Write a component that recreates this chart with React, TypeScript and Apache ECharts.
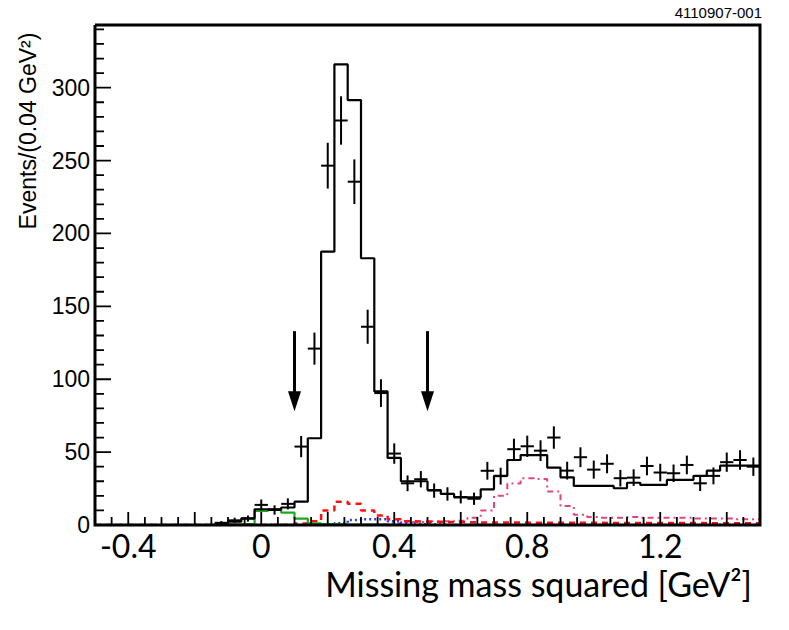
import React, { useEffect, useRef } from "react";
import * as echarts from "echarts";

// Histogram layout (GeV^2)
const X_MIN = -0.5;
const X_MAX = 1.5;
const BIN = 0.04;
const Y_MAX = 343;

// Bin centres, 50 bins of 0.04 GeV^2
const binCenters = [
  -0.48, -0.44, -0.4, -0.36, -0.32, -0.28, -0.24, -0.2, -0.16, -0.12,
  -0.08, -0.04, 0.0, 0.04, 0.08, 0.12, 0.16, 0.2, 0.24, 0.28,
  0.32, 0.36, 0.4, 0.44, 0.48, 0.52, 0.56, 0.6, 0.64, 0.68,
  0.72, 0.76, 0.8, 0.84, 0.88, 0.92, 0.96, 1.0, 1.04, 1.08,
  1.12, 1.16, 1.2, 1.24, 1.28, 1.32, 1.36, 1.4, 1.44, 1.48,
];

// Total fit (black histogram)
const fitValues = [
  0, 0, 0, 0, 0, 0, 0, 0, 0, 0.7,
  2.3, 4.6, 10.8, 10.8, 12, 16, 59.5, 187.5, 316, 291.5,
  183, 91.6, 46, 30, 30, 24, 21.3, 19, 19, 24.5,
  33.7, 44.6, 48, 48, 39.4, 32.7, 26.8, 26.8, 26.8, 25.2,
  29, 27.5, 27.5, 30.9, 30.9, 33.7, 37.3, 40.7, 40.7, 40.7,
];

// Component histograms
const greenValues = [
  0, 0, 0, 0, 0, 0, 0, 0, 0, 0.5,
  0.5, 0.8, 9.6, 10.8, 8.5, 4.4, 1.2, 0.6, 0.4, 0.3,
  0.2, 0.1, 0, 0, 0, 0, 0, 0, 0, 0,
  0, 0, 0, 0, 0, 0, 0, 0, 0, 0,
  0, 0, 0, 0, 0, 0, 0, 0, 0, 0,
];
const blueValues = [
  0, 0, 0, 0, 0, 0, 0, 0, 0, 0,
  0, 0, 0, 0, 0, 0, 0, 0.5, 1.2, 3.5,
  4, 4, 2.5, 1.2, 0.5, 0.3, 0, 0, 0, 0,
  0, 0, 0, 0, 0, 0, 0, 0, 0, 0,
  0, 0, 0, 0, 0, 0, 0, 0, 0, 0,
];
const redValues = [
  0, 0, 0, 0, 0, 0, 0, 0, 0, 0,
  0, 0, 0, 0, 0, 1, 2.5, 10, 16, 14.5,
  10, 6.5, 4, 2.5, 2.3, 2.2, 2, 2, 1.8, 1.8,
  1.7, 1.7, 1.6, 1.6, 1.5, 1.5, 1.5, 1.5, 1.4, 1.4,
  1.4, 1.4, 1.3, 1.3, 1.3, 1.3, 1.2, 1.2, 1.2, 1.2,
];
const pinkValues = [
  0, 0, 0, 0, 0, 0, 0, 0, 0, 0,
  0, 0, 0, 0, 0, 0, 0, 0, 0, 0,
  0, 0.5, 1, 2, 2, 2.5, 2.5, 3, 5, 10,
  20, 28.5, 32, 31.5, 23, 13, 7, 5.5, 5, 5,
  5.5, 5, 5, 5, 5, 4.5, 4.5, 4.5, 4, 4,
];

// Data points (null = no entry) and their errors
const dataValues = [
  null, null, null, null, null, null, null, null, null, 1.5,
  3.2, 4.4, 13.8, 10.3, 14.5, 53.8, 121, 246.5, 277.5, 235.5,
  136, 90.5, 49, 28.6, 31.4, 23.6, 21.3, 19.2, 18, 37.2,
  33.5, 52, 54, 51, 60, 37.3, 46.5, 38, 42, 32.1,
  32.5, 40.5, 36, 35.5, 41.2, 28.6, 33.7, 43.1, 44.6, 40,
];
const dataErrors = [
  null, null, null, null, null, null, null, null, null, 1.2,
  1.8, 2.1, 3.7, 3.2, 3.8, 7.3, 11, 15.7, 16.6, 15.3,
  11.7, 9.5, 7, 5.4, 5.6, 4.9, 4.6, 4.4, 4.2, 6.1,
  5.8, 7.2, 7.3, 7.1, 7.7, 6.1, 6.8, 6.2, 6.5, 5.7,
  5.7, 6.4, 6, 6, 6.4, 5.3, 5.8, 6.6, 6.7, 6.3,
];

// Selection arrows
const arrowX = [0.1, 0.5];
const arrowTop = 133;
const arrowTip = 78;

// Axis ticks and labels
const xLabelValues = [-0.4, 0, 0.4, 0.8, 1.2];
const X_MINOR_STEP = 0.05;
const X_MID_STEP = 0.2;
const Y_MAJOR_STEP = 50;
const Y_MINOR_STEP = 10;

const stepData = (vals: number[]) => {
  const pts: number[][] = vals.map((v, i) => [X_MIN + i * BIN, v]);
  pts.push([X_MAX, vals[vals.length - 1]]);
  return pts;
};

const near = (a: number, step: number) => Math.abs(a / step - Math.round(a / step)) < 1e-6;

// tick positions in data units: [value, pixel length]
const xTicks: number[][] = [];
for (let k = 1; k < Math.round((X_MAX - X_MIN) / X_MINOR_STEP); k++) {
  const v = X_MIN + k * X_MINOR_STEP;
  xTicks.push([v, near(v, X_MID_STEP) ? 13 : 8]);
}
const yTicks: number[][] = [];
for (let v = Y_MINOR_STEP; v < Y_MAX; v += Y_MINOR_STEP) {
  yTicks.push([v, v % Y_MAJOR_STEP === 0 ? 16 : 9]);
}

export default function App() {
  const ref = useRef<HTMLDivElement>(null);
  useEffect(() => {
    if (!ref.current) return;
    const chart = echarts.init(ref.current, undefined, { renderer: "svg" });

    const points = binCenters
      .map((c, i) => [c, dataValues[i], dataErrors[i]])
      .filter((p) => p[1] !== null);

    const option: any = {
      animation: false,
      grid: { left: 95, right: 29, top: 25, bottom: 105, containLabel: false },
      xAxis: [
        {
          type: "value",
          position: "bottom",
          min: X_MIN,
          max: X_MAX,
          axisLine: { show: false, onZero: false },
          axisTick: { show: false },
          axisLabel: {
            show: true,
            customValues: xLabelValues,
            formatter: (v: number) => (Math.abs(v) < 1e-9 ? "0" : v.toFixed(1)),
            fontFamily: "Lato",
            fontSize: 32,
            color: "#000",
            margin: 4,
          },
          splitLine: { show: false },
        },
      ],
      yAxis: [
        {
          type: "value",
          position: "left",
          min: 0,
          max: Y_MAX,
          interval: 50,
          axisLine: { show: false, onZero: false },
          axisTick: { show: false },
          axisLabel: {
            formatter: (v: number) => (v % 50 === 0 && v <= 300 ? String(v) : ""),
            fontFamily: "Liberation Sans",
            fontSize: 23,
            color: "#000",
            margin: 5,
          },
          splitLine: { show: false },
        },
      ],
      series: [
        {
          type: "line",
          step: "end",
          data: stepData(pinkValues),
          symbol: "none",
          lineStyle: { color: "#e4457c", width: 2, type: [6, 4, 2, 4] },
          z: 3,
        },
        {
          type: "line",
          step: "end",
          data: stepData(redValues),
          symbol: "none",
          lineStyle: { color: "#ff1010", width: 2.5, type: [6, 5] },
          z: 3,
        },
        {
          type: "line",
          step: "end",
          data: stepData(blueValues),
          symbol: "none",
          lineStyle: { color: "#2e3cf0", width: 2.5, type: [2, 3] },
          z: 3,
        },
        {
          type: "line",
          step: "end",
          data: stepData(greenValues),
          symbol: "none",
          lineStyle: { color: "#1ea81e", width: 2.2 },
          z: 3,
        },
        {
          type: "line",
          step: "end",
          data: stepData(fitValues),
          symbol: "none",
          lineStyle: { color: "#000", width: 2.2 },
          z: 5,
        },
        {
          type: "custom",
          data: points,
          z: 8,
          renderItem: (params: any, api: any) => {
            const x = api.value(0);
            const y = api.value(1);
            const e = api.value(2);
            const top = api.coord([x, y + e]);
            const bot = api.coord([x, Math.max(0, y - e)]);
            const l = api.coord([x - BIN / 2, y]);
            const r = api.coord([x + BIN / 2, y]);
            const st = { stroke: "#000", lineWidth: 2 };
            return {
              type: "group",
              children: [
                { type: "line", shape: { x1: top[0], y1: top[1], x2: bot[0], y2: bot[1] }, style: st },
                { type: "line", shape: { x1: l[0], y1: l[1], x2: r[0], y2: r[1] }, style: st },
              ],
            };
          },
        },
        {
          // axis tick combs, drawn as two polylines placed through the axes' scales
          type: "custom",
          data: [[X_MIN, 0]],
          z: 30,
          clip: false,
          renderItem: (params: any, api: any) => {
            const bottomPts: number[][] = [];
            xTicks.forEach((t) => {
              const p = api.coord([t[0], 0]);
              bottomPts.push([p[0], p[1]], [p[0], p[1] - t[1]], [p[0], p[1]]);
            });
            const leftPts: number[][] = [];
            yTicks.forEach((t) => {
              const p = api.coord([X_MIN, t[0]]);
              leftPts.push([p[0], p[1]], [p[0] + t[1], p[1]], [p[0], p[1]]);
            });
            const st = { stroke: "#000", lineWidth: 1.8, fill: null };
            return {
              type: "group",
              children: [
                { type: "polyline", shape: { points: bottomPts }, style: st },
                { type: "polyline", shape: { points: leftPts }, style: st },
              ],
            };
          },
        },
        {
          type: "custom",
          data: arrowX.map((x) => [x, arrowTop, arrowTip]),
          z: 9,
          renderItem: (params: any, api: any) => {
            const x = api.value(0);
            const p0 = api.coord([x, api.value(1)]);
            const p1 = api.coord([x, api.value(2)]);
            const headLen = 20;
            const halfW = 6.5;
            return {
              type: "group",
              children: [
                {
                  type: "line",
                  shape: { x1: p0[0], y1: p0[1], x2: p1[0], y2: p1[1] - headLen + 2 },
                  style: { stroke: "#000", lineWidth: 3 },
                },
                {
                  type: "polygon",
                  shape: {
                    points: [
                      [p1[0] - halfW, p1[1] - headLen],
                      [p1[0] + halfW, p1[1] - headLen],
                      [p1[0], p1[1]],
                    ],
                  },
                  style: { fill: "#000" },
                },
              ],
            };
          },
        },
      ],
      graphic: {
        elements: [
          {
            type: "polyline",
            z: 100,
            shape: { points: [[95, 25], [760, 25], [760, 525], [95, 525], [95, 25]] },
            style: { fill: null, stroke: "#000", lineWidth: 3 },
          },
          {
            type: "text",
            x: 762,
            y: 12,
            style: {
              text: "4110907-001",
              font: '15px "Liberation Sans"',
              fill: "#000",
              textAlign: "right",
              textVerticalAlign: "middle",
            },
          },
          {
            type: "text",
            x: 28,
            y: 131,
            rotation: Math.PI / 2,
            style: {
              text: "Events/(0.04 GeV²)",
              font: '23px "Liberation Sans"',
              fill: "#000",
              textAlign: "center",
              textVerticalAlign: "middle",
            },
          },
          {
            type: "text",
            x: 752,
            y: 583,
            style: {
              text: "Missing mass squared [GeV²]",
              font: '34px "Lato"',
              fill: "#000",
              textAlign: "right",
              textVerticalAlign: "middle",
            },
          },
        ],
      },
    };

    chart.setOption(option);
    return () => chart.dispose();
  }, []);

  return (
    <div
      ref={ref}
      style={{ position: "absolute", left: 0, top: 0, width: 789, height: 630, background: "#fff" }}
    />
  );
}
